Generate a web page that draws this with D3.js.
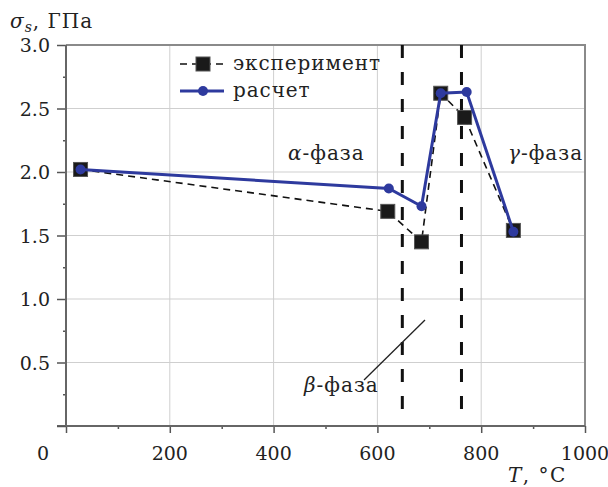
<!DOCTYPE html>
<html>
<head>
<meta charset="utf-8">
<script src="https://cdn.jsdelivr.net/npm/d3@7"></script>
<style>
  body { margin: 0; background: #fff; }
</style>
</head>
<body>
<div id="container"></div>
<script>
// data
var expT = [28, 620, 685, 722, 768, 862];
var expS = [2.02, 1.69, 1.45, 2.62, 2.43, 1.54];
var calcT = [28, 622, 685, 722, 772, 862];
var calcS = [2.02, 1.87, 1.73, 2.62, 2.63, 1.53];
var phaseBounds = [648, 762];
var xTicks = [0, 200, 400, 600, 800, 1000];
var yTicks = [0.5, 1.0, 1.5, 2.0, 2.5, 3.0];
var legendNames = ["эксперимент", "расчет"];

var width = 608, height = 487;
var serif = "DejaVu Serif";
var svg = d3.select("#container").append("svg")
  .attr("width", width).attr("height", height)
  .style("font-family", serif);

var x = d3.scaleLinear().domain([0, 1000]).range([66, 585]);
var y = d3.scaleLinear().domain([0, 3]).range([426, 45]);

var blue = "#2e3a9e";

// grid
svg.append("g").selectAll("line").data(xTicks.slice(1, -1)).enter().append("line")
  .attr("x1", d => x(d)).attr("x2", d => x(d))
  .attr("y1", y(0)).attr("y2", y(3))
  .attr("stroke", "#cfcfcf").attr("stroke-width", 1);
svg.append("g").selectAll("line").data(yTicks.slice(0, -1)).enter().append("line")
  .attr("x1", x(0)).attr("x2", x(1000))
  .attr("y1", d => y(d)).attr("y2", d => y(d))
  .attr("stroke", "#cfcfcf").attr("stroke-width", 1);

// frame top/right
svg.append("path")
  .attr("d", "M" + x(0) + "," + y(3) + "H" + x(1000) + "V" + y(0))
  .attr("fill", "none").attr("stroke", "#8a8a8a").attr("stroke-width", 2);

// axes
var xAxis = d3.axisBottom(x).tickValues(d3.range(0, 1001, 100))
  .tickSize(0).tickFormat("");
var gx = svg.append("g").attr("transform", "translate(0," + y(0) + ")").call(xAxis);
gx.select(".domain").remove();
gx.selectAll(".tick").append("line")
  .attr("y2", d => d % 200 === 0 ? 7 : 3)
  .attr("stroke", "#555").attr("stroke-width", 1.5);
svg.append("line")
  .attr("x1", x(0) - 9).attr("x2", x(1000))
  .attr("y1", y(0)).attr("y2", y(0))
  .attr("stroke", "#666").attr("stroke-width", 2);

var yAxis = d3.axisLeft(y).tickValues(d3.range(0, 3.01, 0.25))
  .tickSize(0).tickFormat("");
var gy = svg.append("g").attr("transform", "translate(" + x(0) + ",0)").call(yAxis);
gy.select(".domain").remove();
gy.selectAll(".tick").append("line")
  .attr("x2", d => Math.abs(d * 2 - Math.round(d * 2)) < 1e-6 ? -9 : -3)
  .attr("stroke", "#555").attr("stroke-width", 1.5);
svg.append("line")
  .attr("x1", x(0)).attr("x2", x(0))
  .attr("y1", y(0)).attr("y2", y(3))
  .attr("stroke", "#666").attr("stroke-width", 2);

function txt(sel, size, spacing) {
  return sel.attr("font-family", serif).style("font-family", serif)
    .attr("fill", "#222").style("font-size", (size || 19) + "px")
    .style("letter-spacing", (spacing || 0) + "px");
}

// tick labels
txt(svg.append("g").selectAll("text").data(xTicks).enter().append("text"))
  .attr("x", d => d === 0 ? x(d) - 23 : x(d))
  .attr("y", 460)
  .attr("text-anchor", "middle")
  .text(d => d);
txt(svg.append("g").selectAll("text").data(yTicks).enter().append("text"))
  .attr("x", 50)
  .attr("y", d => y(d) + 7)
  .attr("text-anchor", "end")
  .text(d => d.toFixed(1));

// axis titles
var yt = txt(svg.append("text"), 20, 1).attr("x", 10).attr("y", 28);
yt.append("tspan").style("font-style", "italic").text("σ");
yt.append("tspan").style("font-style", "italic").style("font-size", "14px").attr("dy", 4).text("s");
yt.append("tspan").attr("dy", -4).text(", ГПа");

var xt = txt(svg.append("text"), 20, 1.5).attr("x", 508).attr("y", 482);
xt.append("tspan").style("font-style", "italic").text("T");
xt.append("tspan").text(", °C");

// phase boundaries
svg.append("g").selectAll("line").data(phaseBounds).enter().append("line")
  .attr("x1", d => x(d)).attr("x2", d => x(d))
  .attr("y1", y(3)).attr("y2", 418)
  .attr("stroke", "#111").attr("stroke-width", 3)
  .attr("stroke-dasharray", "13,14");

// phase labels
function phaseLabel(px, py, g) {
  var t = txt(svg.append("text"), 20, 1).attr("x", px).attr("y", py);
  t.append("tspan").style("font-style", "italic").text(g);
  t.append("tspan").text("-фаза");
}
phaseLabel(288, 160, "α");
phaseLabel(508, 160, "γ");
phaseLabel(304, 392, "β");
svg.append("line")
  .attr("x1", 364).attr("y1", 380).attr("x2", 425).attr("y2", 320)
  .attr("stroke", "#222").attr("stroke-width", 1.3);

// series
var expData = expT.map((t, i) => [t, expS[i]]);
var calcData = calcT.map((t, i) => [t, calcS[i]]);
var line = d3.line().x(d => x(d[0])).y(d => y(d[1]));

svg.append("path").datum(expData)
  .attr("d", line).attr("fill", "none")
  .attr("stroke", "#111").attr("stroke-width", 1.6)
  .attr("stroke-dasharray", "7,5");
svg.append("g").selectAll("rect").data(expData).enter().append("rect")
  .attr("x", d => x(d[0]) - 7).attr("y", d => y(d[1]) - 7)
  .attr("width", 14).attr("height", 14)
  .attr("fill", "#1a1a1a").attr("stroke", "#555").attr("stroke-width", 1);

svg.append("path").datum(calcData)
  .attr("d", line).attr("fill", "none")
  .attr("stroke", blue).attr("stroke-width", 3);
svg.append("g").selectAll("circle").data(calcData).enter().append("circle")
  .attr("cx", d => x(d[0])).attr("cy", d => y(d[1]))
  .attr("r", 5).attr("fill", blue);

// legend
var lg = svg.append("g");
lg.append("line").attr("x1", 180).attr("x2", 224).attr("y1", 64).attr("y2", 64)
  .attr("stroke", "#111").attr("stroke-width", 1.6).attr("stroke-dasharray", "7,5");
lg.append("rect").attr("x", 196).attr("y", 57).attr("width", 14).attr("height", 14)
  .attr("fill", "#1a1a1a").attr("stroke", "#555");
lg.append("line").attr("x1", 180).attr("x2", 224).attr("y1", 91).attr("y2", 91)
  .attr("stroke", blue).attr("stroke-width", 3);
lg.append("circle").attr("cx", 203).attr("cy", 91).attr("r", 5).attr("fill", blue);
txt(lg.selectAll("text").data(legendNames).enter().append("text"), 20, 0.9)
  .attr("x", 233).attr("y", (d, i) => 70 + i * 27)
  .text(d => d);
</script>
</body>
</html>
